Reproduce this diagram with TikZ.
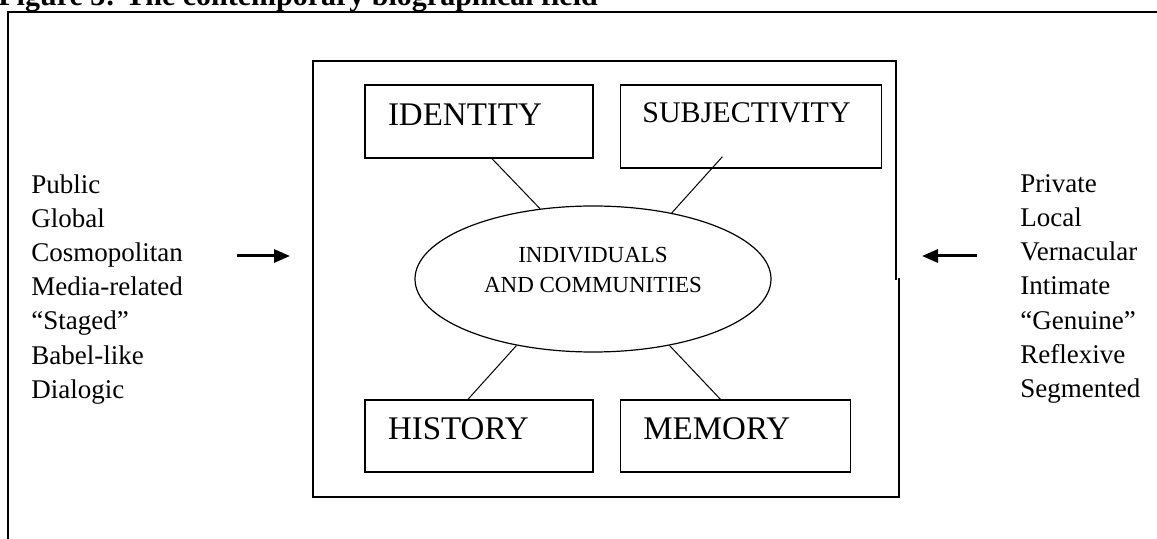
\documentclass[tikz,border=0pt]{standalone}
\usepackage{fontspec}
\setmainfont{Liberation Serif}
\usetikzlibrary{positioning,shapes.geometric,arrows.meta}

\tikzset{
  termbox/.style={draw, rectangle, line width=0.7pt, inner xsep=11.5pt, inner ysep=0pt,
    align=left, font=\fontsize{16.5}{18}\selectfont},
  hub/.style={draw, ellipse, line width=0.6pt, inner sep=0pt, minimum width=178pt,
    minimum height=73pt, align=center, font=\fontsize{11.5}{15}\selectfont},
  poles/.style={inner sep=0pt, anchor=north west, align=left,
    font=\fontsize{13.5}{17.1}\selectfont},
  link/.style={line width=0.5pt},
  push/.style={line width=1.5pt, -{Triangle[length=8pt,width=6.5pt]}},
}

\begin{document}
\begin{tikzpicture}[x=0.5pt,y=-0.5pt]
  \useasboundingbox (0,0) rectangle (1157,539);

  % Title and frames
  \node[anchor=base west, inner sep=0pt, font=\fontsize{15}{17}\selectfont\bfseries]
    (title) at (-2,6) {Figure 3: The contemporary biographical field};
  \draw[line width=1pt] (8,539) |- (1157,12);
  \draw[line width=0.8pt] (896,280) |- (313,61) |- (899,497) -- (899,278);

  % Define nodes
  \node[hub, text depth=9pt] (indiv) at (593,279) {INDIVIDUALS\\AND COMMUNITIES};
  \node[termbox, text width=91pt, text height=20.5pt, text depth=16pt] (ident) at (479,121.5) {IDENTITY};
  \node[termbox, inner xsep=11pt, text width=108.5pt, text height=19pt, text depth=22.5pt,
    font=\fontsize{15}{17}\selectfont, right=13pt of ident.north east, anchor=north west] (subj) {SUBJECTIVITY};
  \node[termbox, text width=91pt, text height=20pt, text depth=16pt] (hist) at (479,436) {HISTORY};
  \node[termbox, text width=92pt, text height=20pt, text depth=16pt,
    right=13pt of hist.north east, anchor=north west] (mem) {MEMORY};

  \node[poles] (pub) at (31,174) {Public\\Global\\Cosmopolitan\\Media-related\\``Staged''\\Babel-like\\Dialogic};
  \node[poles] (priv) at (1020,174) {Private\\Local\\Vernacular\\Intimate\\``Genuine''\\Reflexive\\Segmented};

  % Connect the nodes
  \draw[link] ([xshift=6.5pt]ident.south) -- (indiv.127);
  \draw[link] ([xshift=-14.25pt,yshift=6pt]subj.south) -- (indiv.40);
  \draw[link] ([xshift=-5.5pt]hist.north) -- (indiv.221);
  \draw[link] ([xshift=-7.5pt]mem.north) -- (indiv.319);

  % Arrows
  \coordinate (pubtail) at (237,256);
  \coordinate (pubhead) at (290,256);
  \coordinate (privtail) at (977,256);
  \coordinate (privhead) at (922,256);
  \draw[push] (pubtail) -- (pubhead);
  \draw[push] (privtail) -- (privhead);

\end{tikzpicture}
\end{document}
